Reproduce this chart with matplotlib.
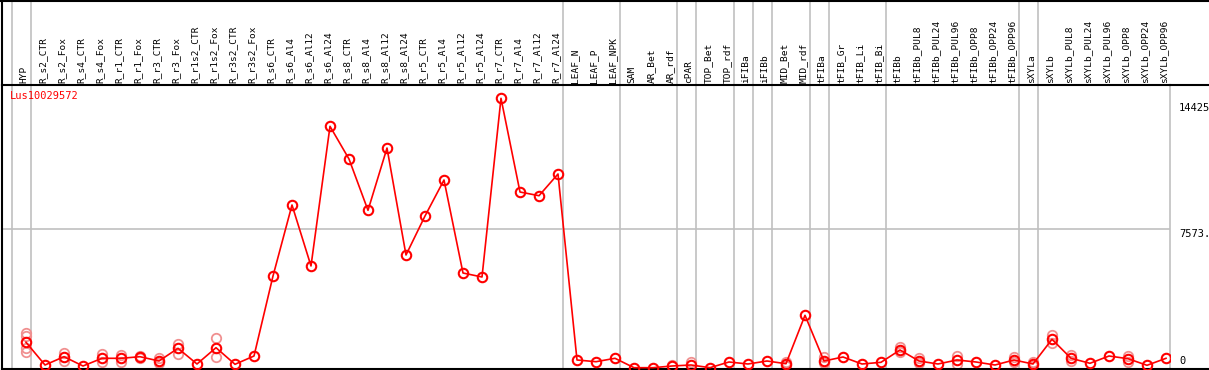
import matplotlib
matplotlib.use("Agg")
import matplotlib.pyplot as plt
import matplotlib.transforms as mtransforms
from matplotlib.lines import Line2D

gene = "Lus10029572"

samples = ["HYP",
           "R_s2_CTR", "R_s2_Fox", "R_s4_CTR", "R_s4_Fox", "R_r1_CTR", "R_r1_Fox",
           "R_r3_CTR", "R_r3_Fox", "R_r1s2_CTR", "R_r1s2_Fox", "R_r3s2_CTR", "R_r3s2_Fox",
           "R_s6_CTR", "R_s6_Al4", "R_s6_Al12", "R_s6_Al24", "R_s8_CTR", "R_s8_Al4",
           "R_s8_Al12", "R_s8_Al24", "R_r5_CTR", "R_r5_Al4", "R_r5_Al12", "R_r5_Al24",
           "R_r7_CTR", "R_r7_Al4", "R_r7_Al12", "R_r7_Al24",
           "LEAF_N", "LEAF_P", "LEAF_NPK", "SAM", "AR_Bet", "AR_rdf", "cPAR",
           "TOP_Bet", "TOP_rdf", "iFIBa", "iFIBb", "MID_Bet", "MID_rdf",
           "tFIBa", "tFIB_Gr", "tFIB_Li", "tFIB_Bi", "tFIBb",
           "tFIBb_PUL8", "tFIBb_PUL24", "tFIBb_PUL96", "tFIBb_OPP8", "tFIBb_OPP24", "tFIBb_OPP96",
           "sXYLa", "sXYLb",
           "sXYLb_PUL8", "sXYLb_PUL24", "sXYLb_PUL96", "sXYLb_OPP8", "sXYLb_OPP24", "sXYLb_OPP96"]

# mean expression per sample
means = [1417,
         180, 631, 125, 544, 544, 631, 397, 1088, 234, 1121, 218, 669,
         5021, 8884, 5567, 13165, 11386, 8595, 11983, 6164,
         8285, 10244, 5184, 4967, 14688, 9591, 9389, 10570,
         452, 359, 544, 33, 33, 125, 180,
         33, 343, 234, 397, 250, 2883,
         397, 615, 234, 326, 996,
         397, 234, 452, 343, 180, 452,
         234, 1578,
         544, 272, 669, 522, 163, 544]

# individual replicates (faint circles)
rep_samples = ["HYP", "HYP", "HYP", "HYP",
               "R_s2_Fox", "R_s2_Fox", "R_s4_Fox", "R_s4_Fox", "R_r1_CTR", "R_r1_CTR",
               "R_r1_Fox", "R_r1_Fox", "R_r3_CTR", "R_r3_CTR", "R_r3_Fox", "R_r3_Fox",
               "R_r1s2_Fox", "R_r1s2_Fox", "cPAR", "AR_rdf",
               "MID_Bet", "MID_Bet", "tFIBa", "tFIBa", "tFIBb", "tFIBb",
               "tFIBb_PUL8", "tFIBb_PUL8", "tFIBb_PUL96", "tFIBb_PUL96",
               "tFIBb_OPP96", "tFIBb_OPP96", "sXYLa", "sXYLa", "sXYLb", "sXYLb",
               "sXYLb_PUL8", "sXYLb_PUL8", "sXYLb_OPP8", "sXYLb_OPP8"]
rep_values = [1904, 1773, 1088, 903,
              849, 413, 762, 359, 724, 359,
              685, 577, 544, 272, 1338, 794,
              1632, 631, 326, 180,
              359, 125, 598, 272, 1142, 903,
              544, 272, 685, 234,
              598, 326, 359, 125, 1812, 1360,
              740, 397, 669, 359]

# sample index after which a group separator is drawn (-1 = before the first)
group_ends = [-1, 0, 28, 31, 34, 35, 37, 38, 39, 41, 42, 45, 52, 53]

y_ticks = [14425, 7573, 0]
y_tick_labels = ["14425", "7573.", "0"]

W, H = 1209, 370
fig = plt.figure(figsize=(W / 100, H / 100), dpi=100)
fig.patch.set_facecolor("white")

ax_l, ax_r, ax_t, ax_b = 2, 1170, 85, 369
ax = fig.add_axes([ax_l / W, (H - ax_b) / H, (ax_r - ax_l) / W, (ax_b - ax_t) / H])

x = list(range(len(samples)))
ax.set_xlim((ax_l - 26) / 19, (ax_r - 26) / 19)
ax.set_ylim(-38, 15412)
ax.set_xticks([])
ax.set_yticks([])
for s in ["top", "bottom", "left"]:
    ax.spines[s].set_color("black")
    ax.spines[s].set_linewidth(1.5)
ax.spines["right"].set_color("#c0c0c0")
ax.spines["right"].set_linewidth(1.2)

mono = "DejaVu Sans Mono"
grid_c = "#c0c0c0"

# vertical separators run through the header too
trans = mtransforms.blended_transform_factory(ax.transData, ax.transAxes)
top_frac = (ax_b - 0) / (ax_b - ax_t)
for g in group_ends:
    ax.plot([g + 0.24, g + 0.24], [0, top_frac], color=grid_c, lw=1.2,
            transform=trans, clip_on=False, zorder=0)

ax.axhline(y_ticks[1], color=grid_c, lw=1.2, zorder=0)

# frame lines outside the axes
fig.add_artist(Line2D([0, 1], [1 - 0.5 / H, 1 - 0.5 / H], color="black", lw=1.5))
fig.add_artist(Line2D([ax_r / W, 1], [(H - ax_t) / H] * 2, color="black", lw=1.5))
fig.add_artist(Line2D([ax_r / W, 1], [(H - ax_b) / H] * 2, color="black", lw=1.5))
fig.add_artist(Line2D([ax_l / W] * 2, [(H - ax_t) / H, 1], color="black", lw=1.5))

# column labels
for i, name in enumerate(samples):
    ax.text(i - 0.1, 1 + 2 / (ax_b - ax_t), name, transform=trans, rotation=90,
            ha="center", va="bottom", fontsize=6.8, family=mono, clip_on=False)

# replicates, then the mean line
rx = [samples.index(s) for s in rep_samples]
ax.plot(rx, rep_values, linestyle="none", marker="o", markersize=6.8,
        markerfacecolor="none", markeredgecolor="#f09090", markeredgewidth=1.3, zorder=2)
ax.plot(x, means, color="red", lw=1.2, marker="o", markersize=6.8,
        markerfacecolor="none", markeredgecolor="red", markeredgewidth=1.5, zorder=3)

ax.text(8 / (ax_r - ax_l), 1 - 6 / (ax_b - ax_t), gene, transform=ax.transAxes,
        color="red", fontsize=7.5, family=mono, ha="left", va="top")

# value labels on the right
rtrans = mtransforms.blended_transform_factory(fig.transFigure, ax.transData)
for v, lab in zip(y_ticks[:2], y_tick_labels[:2]):
    fig.text(1179 / W, v, lab, transform=rtrans, fontsize=7.5, family=mono,
             ha="left", va="top")
fig.text(1179 / W, (H - 366) / H, y_tick_labels[2], fontsize=7.5, family=mono,
         ha="left", va="bottom")

fig.savefig("out.png", dpi=100, facecolor="white")
